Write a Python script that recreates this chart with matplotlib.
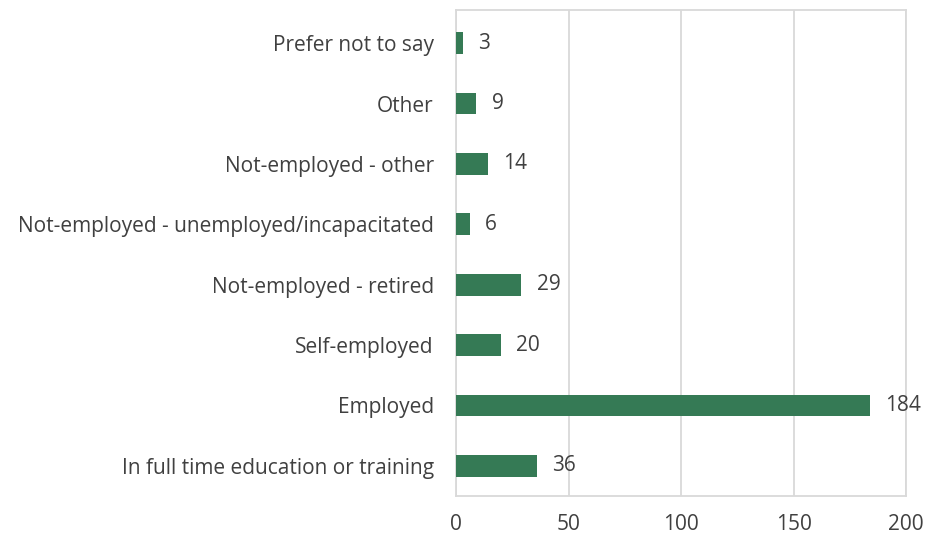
import matplotlib.pyplot as plt

plt.rcParams['font.family'] = ['Open Sans', 'DejaVu Sans']

# employment status, listed bottom to top
categories = [
    "In full time education or training",
    "Employed",
    "Self-employed",
    "Not-employed - retired",
    "Not-employed - unemployed/incapacitated",
    "Not-employed - other",
    "Other",
    "Prefer not to say",
]
counts = [36, 184, 20, 29, 6, 14, 9, 3]
xticks = [0, 50, 100, 150, 200]

bar_color = "#357a55"
grid_color = "#d9d9d9"
text_color = "#404040"

fig = plt.figure(figsize=(9.28, 5.38), dpi=100)
ax = fig.add_axes([0.4914, 0.0781, 0.4849, 0.9033])

pos = range(len(categories))
ax.barh(pos, counts, height=0.36, color=bar_color, zorder=3)

for y, v in zip(pos, counts):
    ax.annotate(str(v), (v, y), xytext=(11, 0), textcoords="offset points",
                va="center", ha="left", fontsize=15, color=text_color)

ax.set_xlim(0, 200)
ax.set_ylim(-0.5, 7.55)
ax.set_xticks(xticks)
ax.set_yticks(list(pos))
ax.set_yticklabels(categories)
ax.tick_params(axis="both", length=0, labelsize=15, labelcolor=text_color)
ax.tick_params(axis="y", pad=16)
ax.tick_params(axis="x", pad=13)

ax.grid(axis="x", color=grid_color, linewidth=1.3, zorder=0)
for side in ["top", "right", "bottom", "left"]:
    ax.spines[side].set_color(grid_color)
    ax.spines[side].set_linewidth(1.3)

fig.savefig("out.png", dpi=100)
